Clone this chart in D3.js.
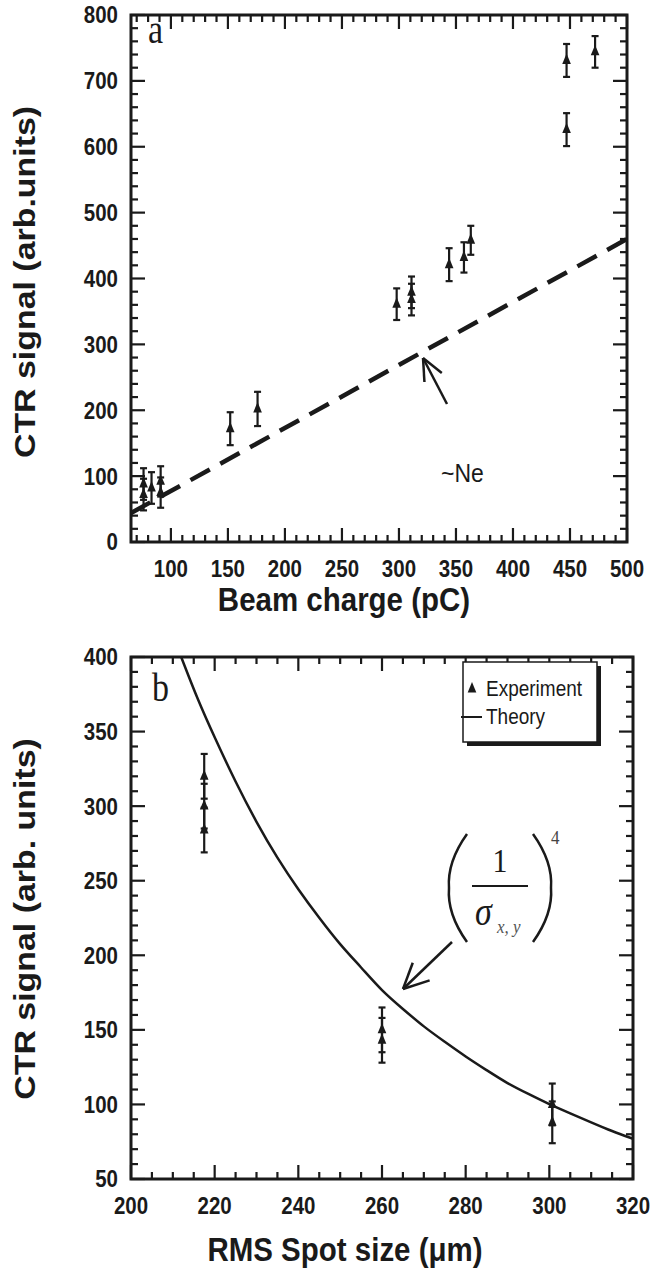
<!DOCTYPE html>
<html>
<head>
<meta charset="utf-8">
<script src="https://cdn.jsdelivr.net/npm/d3@7"></script>
<style>
body { margin: 0; background: #fff; }
svg { display: block; }
.lab { font-family: "Liberation Sans", Arial, sans-serif; font-weight: bold; font-size: 20.5px; fill: #1a1a1a; }
.ttl { font-family: "Liberation Sans", Arial, sans-serif; font-weight: bold; font-size: 29.5px; fill: #1a1a1a; }
</style>
</head>
<body>
<script>
// panel a : beam charge scan
var chargeX = [76, 76, 83, 91, 91, 152, 176, 298, 311, 311, 344, 357, 363, 447, 447, 472];
var chargeY = [72, 88, 82, 92, 75, 172, 202, 361, 379, 368, 421, 432, 458, 731, 626, 744];
var chargeErr = [24, 24, 24, 23, 23, 25, 26, 24, 24, 24, 25, 23, 22, 25, 25, 24];
var neLine = [[65, 44], [500, 460]];

// panel b : spot size scan
var spotX = [217.5, 217.5, 217.5, 260, 260, 300.7, 300.7];
var spotY = [320, 300, 284, 150, 143, 100, 88];
var spotErr = [15, 15, 15, 15, 15, 14, 14];
var theoryX = [212, 216, 220, 225, 230, 235, 240, 245, 250, 255, 260, 265, 270, 275, 280, 285, 290, 295, 300, 305, 310, 315, 320];
var theoryY = [400, 371, 346, 316, 289, 265, 244, 225, 207, 192, 176, 164, 152, 142, 132, 123, 114, 107, 100, 94, 88, 82, 77];

var width = 657, height = 1278;
var svg = d3.select("body").append("svg").attr("width", width).attr("height", height);
var ink = "#1a1a1a";
var SY = 1.15; // the original figure is stretched vertically

function stretched(sel, x, y, rot) {
	return sel.attr("transform", "translate(" + x + "," + y + ") scale(1," + SY + ")" + (rot ? " rotate(" + rot + ")" : ""));
}

function panel(o) {
	var g = svg.append("g");
	var x = d3.scaleLinear().domain(o.xDom).range([o.left, o.right]);
	var y = d3.scaleLinear().domain(o.yDom).range([o.bottom, o.top]);

	g.append("rect").attr("x", o.left).attr("y", o.top)
		.attr("width", o.right - o.left).attr("height", o.bottom - o.top)
		.attr("fill", "none").attr("stroke", ink).attr("stroke-width", 3);

	// minor + major ticks on all four sides, pointing inwards
	var xm = [], ym = [];
	for (var v = o.xDom[0]; v <= o.xDom[1] + 1e-6; v += 1) if (v % o.xMinor == 0) xm.push(v);
	for (var w = o.yDom[0]; w <= o.yDom[1] + 1e-6; w += 1) if (w % o.yMinor == 0) ym.push(w);
	var tk = g.append("g").attr("stroke", ink).attr("stroke-width", 2.2);
	tk.selectAll("line.xb").data(xm).join("line").attr("class", "xb")
		.attr("x1", function (d) { return x(d); }).attr("x2", function (d) { return x(d); })
		.attr("y1", o.bottom).attr("y2", function (d) { return o.bottom - (d % o.xMajor == 0 ? 14 : 7); });
	tk.selectAll("line.xt").data(xm).join("line").attr("class", "xt")
		.attr("x1", function (d) { return x(d); }).attr("x2", function (d) { return x(d); })
		.attr("y1", o.top).attr("y2", function (d) { return o.top + (d % o.xMajor == 0 ? 14 : 7); });
	tk.selectAll("line.yl").data(ym).join("line").attr("class", "yl")
		.attr("y1", function (d) { return y(d); }).attr("y2", function (d) { return y(d); })
		.attr("x1", o.left).attr("x2", function (d) { return o.left + (d % o.yMajor == 0 ? 14 : 7); });
	tk.selectAll("line.yr").data(ym).join("line").attr("class", "yr")
		.attr("y1", function (d) { return y(d); }).attr("y2", function (d) { return y(d); })
		.attr("x1", o.right).attr("x2", function (d) { return o.right - (d % o.yMajor == 0 ? 14 : 7); });

	var xt = xm.filter(function (d) { return d % o.xMajor == 0; });
	var yt = ym.filter(function (d) { return d % o.yMajor == 0; });
	g.append("g").selectAll("text").data(xt).join("text").attr("class", "lab")
		.attr("text-anchor", "middle").text(function (d) { return d; })
		.each(function (d) { stretched(d3.select(this), x(d), o.bottom + 35); });
	g.append("g").selectAll("text").data(yt).join("text").attr("class", "lab")
		.attr("text-anchor", "end").attr("dy", "0.36em").text(function (d) { return d; })
		.each(function (d) { stretched(d3.select(this), o.left - 13, y(d)); });

	stretched(g.append("text").attr("class", "ttl").attr("text-anchor", "middle").text(o.xTitle),
		o.xTitlePos[0], o.xTitlePos[1]);
	stretched(g.append("text").attr("class", "ttl").attr("text-anchor", "middle").text(o.yTitle),
		o.yTitlePos[0], o.yTitlePos[1], -90);
	stretched(g.append("text").attr("font-family", "'Liberation Serif', 'DejaVu Serif', serif")
		.attr("font-size", 34).attr("fill", ink).text(o.letter), o.letterPos[0], o.letterPos[1]);

	return {g: g, x: x, y: y};
}

var tri = d3.symbol().type(d3.symbolTriangle).size(40);

function errorPoints(p, xs, ys, es) {
	var pts = xs.map(function (d, i) { return {x: d, y: ys[i], e: es[i]}; });
	var eb = p.g.append("g").attr("stroke", ink).attr("stroke-width", 2.2);
	pts.forEach(function (d) {
		var cx = p.x(d.x), t = p.y(d.y + d.e), b = p.y(d.y - d.e);
		eb.append("line").attr("x1", cx).attr("x2", cx).attr("y1", t).attr("y2", b);
		eb.append("line").attr("x1", cx - 3.5).attr("x2", cx + 3.5).attr("y1", t).attr("y2", t);
		eb.append("line").attr("x1", cx - 3.5).attr("x2", cx + 3.5).attr("y1", b).attr("y2", b);
	});
	p.g.append("g").selectAll("path").data(pts).join("path")
		.attr("d", tri)
		.attr("transform", function (d) { return "translate(" + p.x(d.x) + "," + p.y(d.y) + ") scale(0.9,1.25)"; })
		.attr("fill", ink);
}

function arrow(g, x1, y1, x2, y2, len, spread) {
	var ang = Math.atan2(y2 - y1, x2 - x1);
	g.append("line").attr("x1", x1).attr("y1", y1).attr("x2", x2).attr("y2", y2)
		.attr("stroke", ink).attr("stroke-width", 2.5);
	[-spread, spread].forEach(function (s) {
		g.append("line").attr("x1", x2).attr("y1", y2)
			.attr("x2", x2 - len * Math.cos(ang + s)).attr("y2", y2 - len * Math.sin(ang + s))
			.attr("stroke", ink).attr("stroke-width", 2.5);
	});
}

// ---- panel a
var pa = panel({
	left: 131, right: 627, top: 15, bottom: 542,
	xDom: [65, 500], yDom: [0, 800],
	xMajor: 50, yMajor: 100, xMinor: 10, yMinor: 20,
	xTitle: "Beam charge (pC)", xTitlePos: [344, 611],
	yTitle: "CTR signal (arb.units)", yTitlePos: [35, 282],
	letter: "a", letterPos: [148, 43]
});
svg.append("clipPath").attr("id", "ca").append("rect")
	.attr("x", 131).attr("y", 15).attr("width", 496).attr("height", 527);
pa.g.append("path").datum(neLine)
	.attr("d", d3.line().x(function (d) { return pa.x(d[0]); }).y(function (d) { return pa.y(d[1]); }))
	.attr("fill", "none").attr("stroke", ink).attr("stroke-width", 4.5)
	.attr("stroke-dasharray", "22,12").attr("clip-path", "url(#ca)");
errorPoints(pa, chargeX, chargeY, chargeErr);
arrow(pa.g, 447, 404, 423, 358, 24, 0.42);
stretched(pa.g.append("text").attr("font-family", "'Liberation Sans', Arial, sans-serif")
	.attr("font-size", 23).attr("fill", ink).text("~Ne"), 441, 482);

// ---- panel b
var pb = panel({
	left: 131, right: 633, top: 657, bottom: 1179,
	xDom: [200, 320], yDom: [50, 400],
	xMajor: 20, yMajor: 50, xMinor: 5, yMinor: 10,
	xTitle: "RMS Spot size (\u03bcm)", xTitlePos: [345, 1261],
	yTitle: "CTR signal (arb. units)", yTitlePos: [35, 919],
	letter: "b", letterPos: [152, 701]
});
svg.append("clipPath").attr("id", "cb").append("rect")
	.attr("x", 131).attr("y", 657).attr("width", 502).attr("height", 522);
pb.g.append("path").datum(theoryX.map(function (d, i) { return [d, theoryY[i]]; }))
	.attr("d", d3.line().curve(d3.curveBasis)
		.x(function (d) { return pb.x(d[0]); }).y(function (d) { return pb.y(d[1]); }))
	.attr("fill", "none").attr("stroke", ink).attr("stroke-width", 2.5).attr("clip-path", "url(#cb)");
errorPoints(pb, spotX, spotY, spotErr);
arrow(pb.g, 452, 942, 403, 989, 28, 0.45);

// formula (1/sigma_xy)^4
var fm = pb.g.append("g").attr("font-family", "'Liberation Serif', 'DejaVu Serif', serif").attr("fill", ink);
fm.append("path").attr("d", "M467,834 Q447,862 449,888 Q447,914 467,942")
	.attr("fill", "none").attr("stroke", ink).attr("stroke-width", 2.5);
fm.append("path").attr("d", "M533,834 Q553,862 551,888 Q553,914 533,942")
	.attr("fill", "none").attr("stroke", ink).attr("stroke-width", 2.5);
stretched(fm.append("text").attr("text-anchor", "middle").attr("font-size", 30).text("1"), 500, 872);
fm.append("line").attr("x1", 472).attr("x2", 528).attr("y1", 886).attr("y2", 886)
	.attr("stroke", ink).attr("stroke-width", 2);
stretched(fm.append("text").attr("font-size", 34).attr("font-style", "italic").text("\u03c3"), 475, 925);
stretched(fm.append("text").attr("font-size", 17).attr("font-style", "italic")
	.attr("fill", "#555").text("x, y"), 497, 933);
stretched(fm.append("text").attr("font-size", 17).attr("fill", "#444").text("4"), 551, 844);

// legend
var lg = pb.g.append("g");
lg.append("rect").attr("x", 467).attr("y", 666).attr("width", 134).attr("height", 80).attr("fill", ink);
lg.append("rect").attr("x", 463).attr("y", 662).attr("width", 134).attr("height", 80)
	.attr("fill", "#fff").attr("stroke", ink).attr("stroke-width", 1.5);
lg.append("path").attr("d", tri).attr("transform", "translate(472,689) scale(0.9,1.25)").attr("fill", ink);
lg.append("line").attr("x1", 461).attr("x2", 482).attr("y1", 717).attr("y2", 717)
	.attr("stroke", ink).attr("stroke-width", 2);
stretched(lg.append("text").attr("font-family", "'Liberation Sans', Arial, sans-serif")
	.attr("font-size", 19).attr("fill", ink).text("Experiment"), 486, 696);
stretched(lg.append("text").attr("font-family", "'Liberation Sans', Arial, sans-serif")
	.attr("font-size", 19).attr("fill", ink).text("Theory"), 486, 724);
</script>
</body>
</html>
